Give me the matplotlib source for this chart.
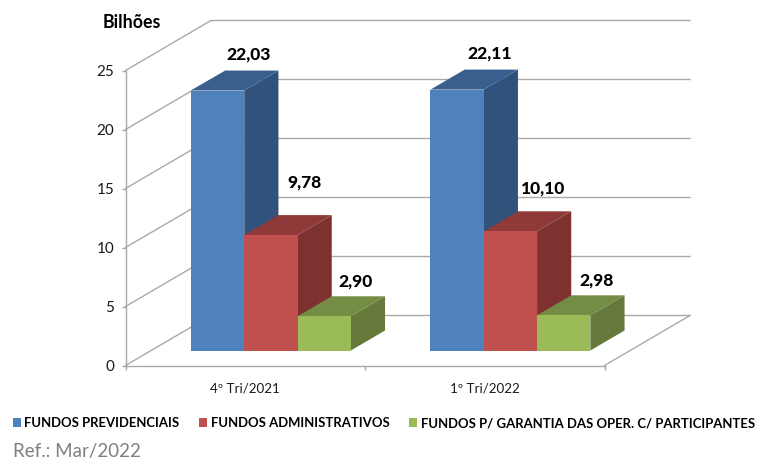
# -*- coding: utf-8 -*-
import matplotlib
matplotlib.use('Agg')
import matplotlib.pyplot as plt
from matplotlib.patches import Polygon, Patch

categories = ['4º Tri/2021', '1º Tri/2022']
previdenciais = [22.03, 22.11]
administrativos = [9.78, 10.10]
garantia = [2.90, 2.98]
val_labels = [['22,03', '22,11'], ['9,78', '10,10'], ['2,90', '2,98']]
series_names = ['FUNDOS PREVIDENCIAIS', 'FUNDOS ADMINISTRATIVOS',
                'FUNDOS P/ GARANTIA DAS OPER. C/ PARTICIPANTES']
yticks = [0, 5, 10, 15, 20, 25]

W, H = 757, 459
plt.rcParams['font.family'] = ['Lato', 'DejaVu Sans']

fig = plt.figure(figsize=(W / 100, H / 100), dpi=100)
# front plane of the 3d box, in pixels
left, right, top, bottom = 125.5, 604.5, 70.5, 365.5
ax = fig.add_axes([left / W, 1 - bottom / H, (right - left) / W, (bottom - top) / H])
ax.set_xlim(0, 2)
ax.set_ylim(0, 25)
ax.patch.set_alpha(0)

# depth of the box, in data units per unit of depth
ux = (right - left) / 2
uy = (bottom - top) / 25
DX = 85.5 / ux
DY = 50.0 / uy
GREY = '#a9a9a9'


def proj(x, y, d):
    return x + d * DX, y + d * DY


# walls and gridlines
for v in yticks:
    xs = [proj(0, v, 0)[0], proj(0, v, 1)[0], proj(2, v, 1)[0]]
    ys = [proj(0, v, 0)[1], proj(0, v, 1)[1], proj(2, v, 1)[1]]
    ax.plot(xs, ys, color=GREY, lw=1.0, clip_on=False, zorder=1)
x0, y0 = proj(2, 0, 0)
x1, y1 = proj(2, 0, 1)
ax.plot([x0, x1], [y0, y1], color=GREY, lw=1.0, clip_on=False, zorder=1)

# bars
bar_w = 53.3 / ux
d_front, d_back = 0.30, 0.70
colors = [('#4f81bd', '#395f8f', '#31527b'),
          ('#c0504d', '#8f3a38', '#7d3230'),
          ('#9bbb59', '#748c43', '#64793a')]
series = [previdenciais, administrativos, garantia]
# label shift from the top of the front face, in pixels
label_dx = [[31, 33], [34, 33], [31, 33]]
label_dy = [[36, 36], [53, 43], [35, 35]]

z = 3
for s, vals in enumerate(series):
    front, up, side = colors[s]
    for c, v in enumerate(vals):
        xa = c + 0.5 + (s - 1.5) * bar_w
        xb = xa + bar_w
        ax.add_patch(Polygon([proj(xb, 0, d_front), proj(xb, 0, d_back),
                              proj(xb, v, d_back), proj(xb, v, d_front)],
                             fc=side, ec='none', clip_on=False, zorder=z))
        ax.add_patch(Polygon([proj(xa, v, d_front), proj(xb, v, d_front),
                              proj(xb, v, d_back), proj(xa, v, d_back)],
                             fc=up, ec='none', clip_on=False, zorder=z))
        ax.add_patch(Polygon([proj(xa, 0, d_front), proj(xb, 0, d_front),
                              proj(xb, v, d_front), proj(xa, v, d_front)],
                             fc=front, ec='none', clip_on=False, zorder=z))
        tx, ty = proj(xa + bar_w / 2, v, d_front)
        ax.annotate(val_labels[s][c], (tx, ty),
                    xytext=(label_dx[s][c] * 0.72, label_dy[s][c] * 0.72),
                    textcoords='offset points', ha='center', va='center',
                    fontsize=12.5, fontweight='black', color='black', zorder=20)
        z += 1

# axes
for k in ['top', 'right']:
    ax.spines[k].set_visible(False)
for k in ['left', 'bottom']:
    ax.spines[k].set_color(GREY)
    ax.spines[k].set_linewidth(1.0)
ax.set_yticks(yticks)
ax.set_xticks([0, 1, 2])
ax.set_xticks([0.5, 1.5], minor=True)
ax.set_xticklabels([])
ax.set_xticklabels(categories, minor=True)
ax.tick_params(axis='both', which='major', color=GREY, length=3, width=1.0, labelsize=11, labelcolor='#1a1a1a', pad=5)
ax.tick_params(axis='x', which='minor', length=0, labelsize=9.6, labelcolor='#1a1a1a', pad=12)

fig.text(103 / W, 1 - 22 / H, 'Bilhões', fontsize=12.8, fontweight='bold', color='black', va='center')

handles = [Patch(fc=colors[i][0], ec='none') for i in range(3)]
fig.legend(handles, series_names, loc='center left', bbox_to_anchor=(13 / W, 1 - 423 / H),
           ncol=3, frameon=False, prop={'weight': 'bold', 'size': 9.45},
           handlelength=0.62, handleheight=0.62, handletextpad=0.25, columnspacing=1.5,
           borderpad=0, borderaxespad=0)

fig.text(13 / W, 1 - 451 / H, 'Ref.: Mar/2022', fontsize=13.5, color='#7f7f7f', va='center')

fig.savefig('out.png', dpi=100)
